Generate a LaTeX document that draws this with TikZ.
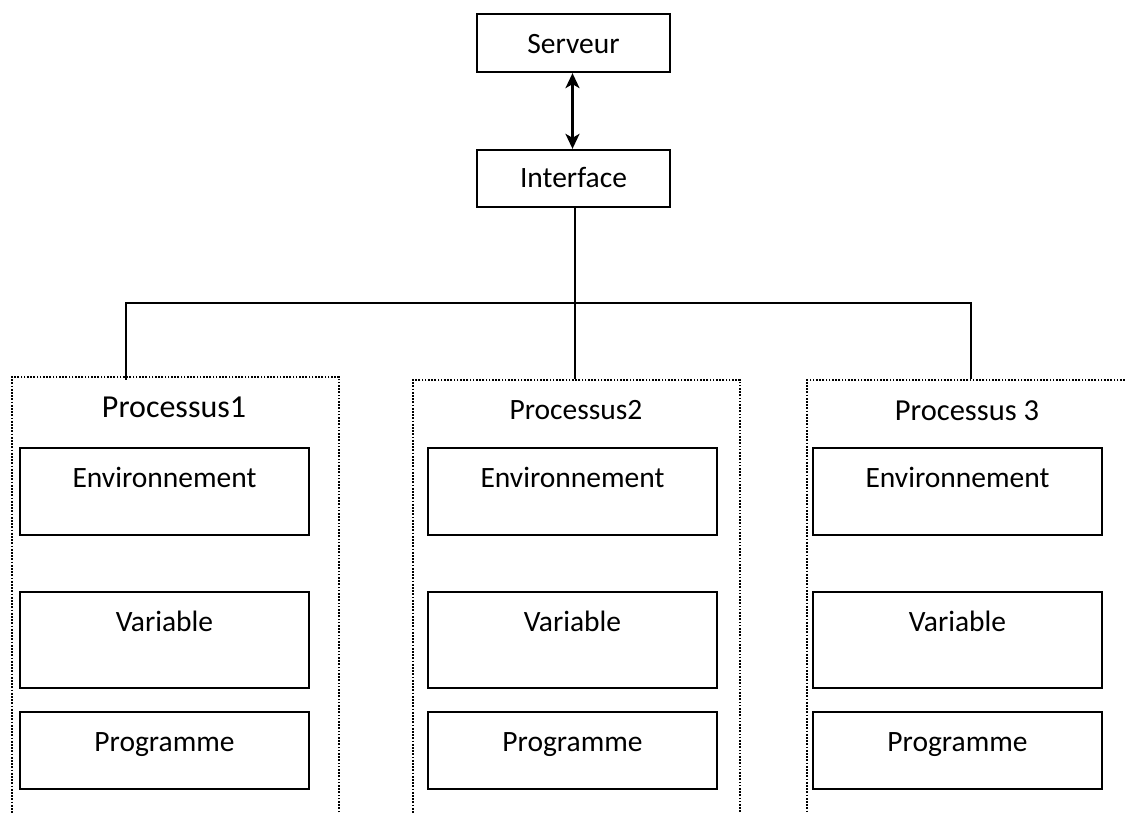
\documentclass[tikz,border=0pt]{standalone}
\usepackage{fontspec}
\setmainfont{Carlito}
\usetikzlibrary{arrows.meta}
\begin{document}
\begin{tikzpicture}[x=1pt,y=-1pt,
  every node/.style={font=\fontsize{29.5}{35}\selectfont, inner ysep=0pt},
  solidbox/.style={draw, line width=2.3pt, inner xsep=4pt},
  topbox/.style={solidbox, minimum width=193pt, anchor=base},
  envbox/.style={solidbox, minimum width=289pt, anchor=base, text height=39pt, text depth=48pt},
  varbox/.style={solidbox, minimum width=289pt, anchor=base, text height=39pt, text depth=57pt},
  progbox/.style={solidbox, minimum width=289pt, anchor=base, text height=39pt, text depth=38pt},
  procbox/.style={draw, line width=1.7pt, dash pattern=on 1.7pt off 1.5pt,
    minimum height=470pt, anchor=north west, inner sep=0pt},
  title/.style={anchor=base},
  link/.style={line width=2.3pt},
]
\useasboundingbox (0,0) rectangle (1125,813);

% server and interface
\node[topbox, text height=40pt, text depth=18pt] (srv) at (573.5,54) {Serveur};
\node[topbox, text height=38pt, text depth=19pt] (ifc) at (573.5,188) {Interface};
\draw[link, {Stealth[length=15pt,width=14pt,inset=4pt]}-{Stealth[length=15pt,width=14pt,inset=4pt]}]
  ([xshift=-1pt]srv.south) -- ([xshift=-1pt]ifc.north);

% process frames (open at the bottom)
\node[procbox, minimum width=327pt] (proc1) at (11,376) {};
\node[procbox, minimum width=327pt] (proc2) at (412,379) {};
\node[procbox, minimum width=340pt] (proc3) at (806,379) {};

% distribution tree
\coordinate (top) at ([xshift=1.5pt]ifc.south);
\coordinate (hub) at (top |- 0,303);
\coordinate (d1) at (126,380);
\coordinate (d3) at (971,379);
\draw[link] (top) -- (hub) -- (hub |- proc2.north);
\draw[link] (hub) -| (d1);
\draw[link] (hub) -| (d3);

% titles
\node[title, font=\fontsize{32}{38}\selectfont] (t1) at (174,417) {Processus1};
\node[title] (t2) at (576,419) {Processus2};
\node[title, font=\fontsize{30.5}{36}\selectfont] (t3) at (967,420) {Processus 3};

% inner components
\node[envbox] (env1) at (164.5,487) {Environnement};
\node[varbox] (var1) at (164.5,631) {Variable};
\node[progbox] (prg1) at (164.5,751) {Programme};

\node[envbox] (env2) at (572.5,487) {Environnement};
\node[varbox] (var2) at (572.5,631) {Variable};
\node[progbox] (prg2) at (572.5,751) {Programme};

\node[envbox] (env3) at (957.5,487) {Environnement};
\node[varbox] (var3) at (957.5,631) {Variable};
\node[progbox] (prg3) at (957.5,751) {Programme};
\end{tikzpicture}
\end{document}
